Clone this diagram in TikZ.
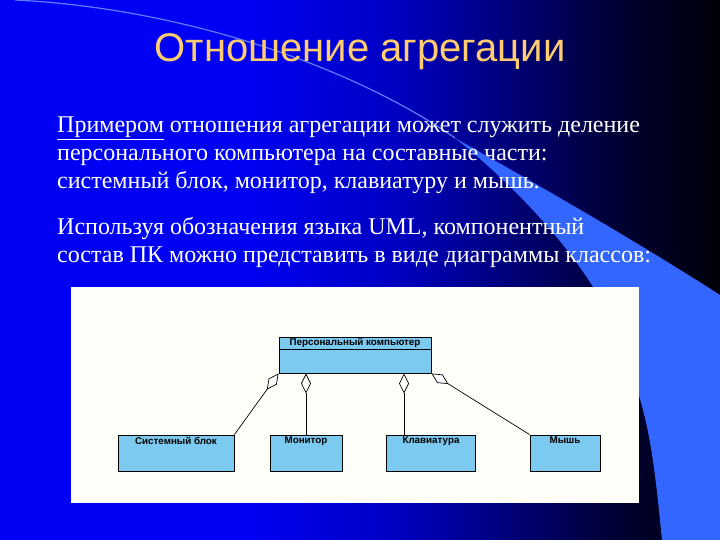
\documentclass[tikz,border=0pt]{standalone}
\usepackage{fontspec}
\setmainfont{Liberation Serif}
\newfontfamily\headfont{Liberation Sans}
\usetikzlibrary{arrows.meta, calc}

\definecolor{slideblue}{RGB}{0,0,245}
\definecolor{slidemid}{RGB}{0,0,190}
\definecolor{slidedeep}{RGB}{0,0,115}
\definecolor{slidedark}{RGB}{0,0,50}
\definecolor{slidenight}{RGB}{0,0,8}
\definecolor{swooshblue}{RGB}{51,102,255}
\definecolor{glowblue}{RGB}{95,125,255}
\definecolor{titlegold}{RGB}{255,204,110}
\definecolor{classfill}{RGB}{125,202,240}
\definecolor{panelwhite}{RGB}{255,255,250}

% 25bp..75bp of the shading covers the slide from left to right
\pgfdeclarehorizontalshading{slideshade}{100bp}{color(0bp)=(slideblue); color(25bp)=(slideblue);
  color(42bp)=(slideblue); color(53bp)=(slidemid); color(61bp)=(slidedeep);
  color(68bp)=(slidedark); color(75bp)=(slidenight); color(100bp)=(slidenight)}

\tikzset{
  slide title/.style={
    font=\headfont\fontsize{40}{48}\selectfont,
    color=titlegold,
    inner sep=0pt
  },
  slide text/.style={
    font=\fontsize{24}{28}\selectfont,
    color=white,
    align=left,
    inner sep=0pt,
    anchor=north west
  },
  glow line/.style={
    draw=glowblue,
    line width=1.2pt
  },
  class box/.style={
    draw=black,
    line width=0.9pt,
    fill=classfill,
    inner sep=0pt
  },
  class name/.style={
    font=\headfont\bfseries\fontsize{9.8}{11}\selectfont,
    inner sep=2pt,
    anchor=north
  },
  aggregation/.style={
    draw=black,
    line width=0.7pt,
    -{Diamond[fill=white, length=20pt, width=10pt]}
  }
}

\begin{document}
\begin{tikzpicture}[x=1pt, y=-1pt]

  %% ---- фон слайда ----
  \useasboundingbox (0,0) rectangle (720,540);
  \shade[shading=slideshade] (0,0) rectangle (720,540);

  % светлая дуга и полоса справа
  \draw[glow line] (15,0) .. controls (180,8) and (350,65) .. (455,138);
  \fill[swooshblue] (455,138) .. controls (565,200) and (650,250) .. (720,295)
      -- (720,540) -- (662,540) .. controls (655,470) and (650,420) .. (630,370)
      .. controls (615,300) and (545,210) .. (455,138) -- cycle;

  %% ---- заголовок ----
  \node[slide title, anchor=base] (title) at (360,62) {Отношение агрегации};

  %% ---- текст ----
  \node[slide text] (para1) at (57,117)
      {\underline{Примером} отношения агрегации может служить деление\\
       персонального компьютера на составные части:\\
       системный блок, монитор, клавиатуру и мышь.};
  \node[slide text] (para2) at (57,217)
      {Используя обозначения языка UML, компонентный\\
       состав ПК можно представить в виде диаграммы классов:};

  %% ---- диаграмма классов ----
  \fill[panelwhite] (71,287) rectangle (639,503);

  % класс-целое
  \node[class box, minimum width=152pt, minimum height=36pt] (pc) at (355,355) {};
  \draw[line width=0.9pt] ($ (pc.north west)+(0,13) $) -- ($ (pc.north east)+(0,13) $);
  \node[class name, inner sep=1pt] (pcname) at (pc.north) {Персональный компьютер};

  % классы-части
  \node[class box, minimum width=116pt, minimum height=36pt] (sb)    at (176,453) {};
  \node[class box, minimum width=72pt,  minimum height=36pt] (mon)   at (306,453) {};
  \node[class box, minimum width=89pt,  minimum height=36pt] (kb)    at (431,453) {};
  \node[class box, minimum width=70pt,  minimum height=36pt] (mouse) at (565,453) {};

  \node[class name] (sbname)    at (sb.north)    {Системный блок};
  \node[class name] (monname)   at (mon.north)   {Монитор};
  \node[class name] (kbname)    at (kb.north)    {Клавиатура};
  \node[class name] (mousename) at (mouse.north) {Мышь};

  % агрегации (ромб у целого)
  \coordinate (kbtop) at ($ (kb.north west)!0.2!(kb.north east) $);
  \draw[aggregation] (sb.north east) -- (pc.south west);
  \draw[aggregation] (mon.north) -- (mon.north |- pc.south);
  \draw[aggregation] (kbtop) -- (kbtop |- pc.south);
  \draw[aggregation] (mouse.north west) -- (pc.south east);

\end{tikzpicture}
\end{document}
